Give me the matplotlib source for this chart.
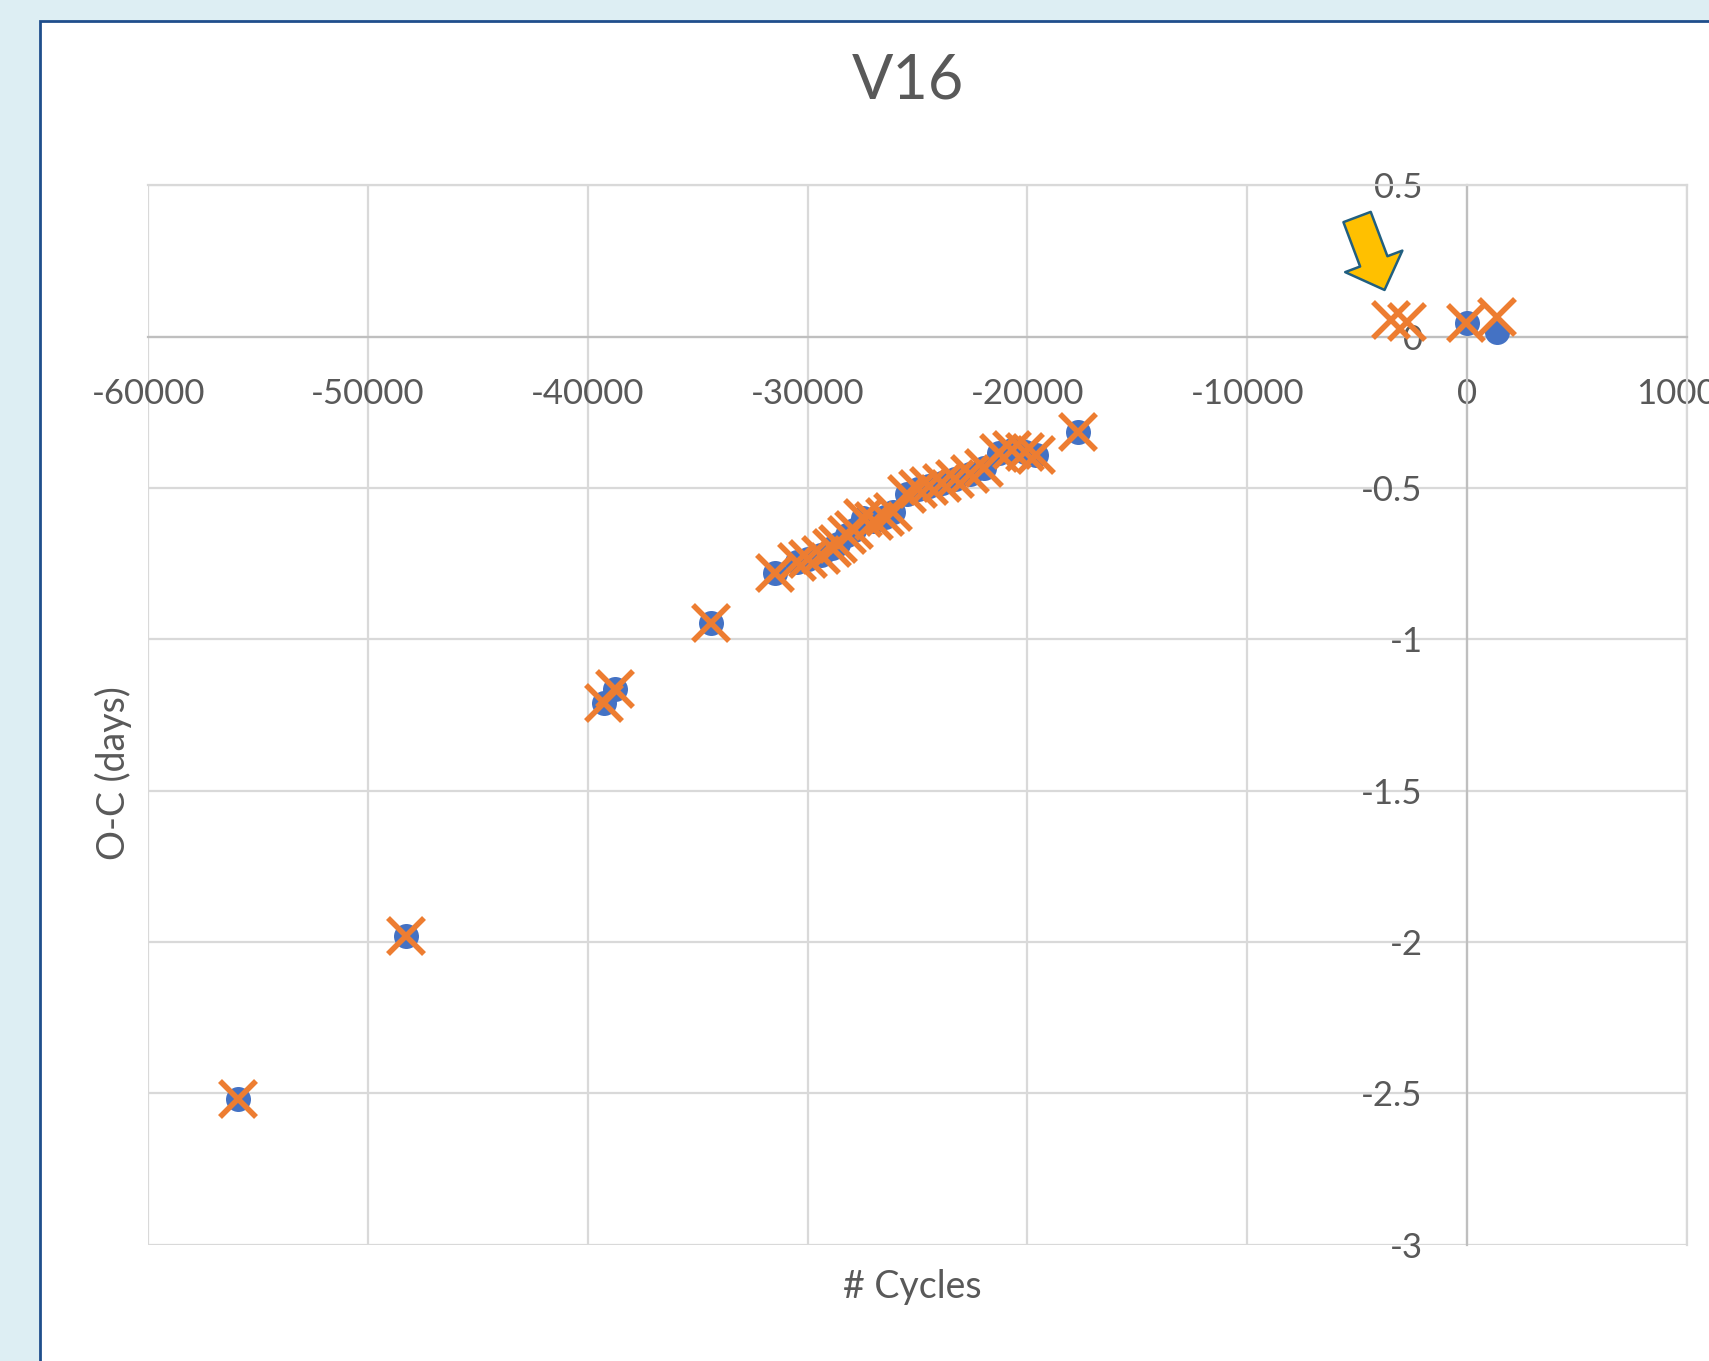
import matplotlib.pyplot as plt
from matplotlib.patches import Rectangle

plt.rcParams['font.family'] = ['Lato', 'DejaVu Sans']

# blue series (observed O-C)
cycles_blue = [-55900, -48250, -39250, -38750, -34400, -31500, -30500, -30000, -29400,
               -28900, -28600, -28200, -27900, -27500, -27000, -26500, -26100, -25500,
               -25000, -24500, -23900, -23300, -22600, -22000, -21300, -20700, -20100,
               -19600, -17700, 0, 1340]
oc_blue = [-2.52, -1.98, -1.21, -1.165, -0.945, -0.78, -0.745, -0.735, -0.72,
           -0.70, -0.685, -0.655, -0.64, -0.60, -0.61, -0.595, -0.58, -0.52,
           -0.505, -0.495, -0.485, -0.47, -0.455, -0.435, -0.385, -0.375, -0.38,
           -0.39, -0.315, 0.045, 0.015]

# orange series (crosses)
cycles_orange = [-55900, -48250, -39250, -38750, -34400, -31500, -30500, -30000, -29400,
                 -28900, -28600, -28200, -27900, -27500, -27000, -26500, -26100, -25500,
                 -25000, -24500, -23900, -23300, -22600, -22000, -21300, -20700, -20100,
                 -19600, -17700, -3450, -2750, -50, 1380]
oc_orange = [-2.52, -1.98, -1.21, -1.165, -0.945, -0.78, -0.745, -0.735, -0.72,
             -0.70, -0.685, -0.655, -0.64, -0.60, -0.61, -0.595, -0.58, -0.52,
             -0.505, -0.495, -0.485, -0.47, -0.455, -0.435, -0.385, -0.375, -0.38,
             -0.39, -0.315, 0.055, 0.048, 0.045, 0.065]

x_ticks = [-60000, -50000, -40000, -30000, -20000, -10000, 0, 10000]
y_ticks = [0.5, 0, -0.5, -1, -1.5, -2, -2.5, -3]

text_col = '#595959'
grid_col = '#D9D9D9'

fig = plt.figure(figsize=(17.09, 13.61), dpi=100)
fig.patch.set_facecolor('#DDEEF3')
fig.add_artist(Rectangle((40 / 1709, -0.1), 1.2, 1.1 - 21 / 1361, transform=fig.transFigure,
                         facecolor='white', edgecolor='#1F4E8C', lw=2, zorder=0))

ax = fig.add_axes([0.0867, 0.0855, 0.9004, 0.7784])
ax.set_facecolor('white')
ax.set_xlim(-60000, 10000)
ax.set_ylim(-3, 0.5)
ax.set_xticks(x_ticks)
ax.set_yticks(y_ticks)
ax.set_xticklabels([str(v) for v in x_ticks])
ax.set_yticklabels([f'{v:g}' for v in y_ticks])
ax.grid(True, color=grid_col, lw=1.6)
ax.set_axisbelow(True)

ax.spines['left'].set_position(('data', 0))
ax.spines['bottom'].set_position(('data', 0))
for s in ['left', 'bottom']:
    ax.spines[s].set_color('#BFBFBF')
    ax.spines[s].set_linewidth(1.6)
for s in ['top', 'right']:
    ax.spines[s].set_color(grid_col)
    ax.spines[s].set_linewidth(1.6)

ax.tick_params(axis='x', length=0, pad=30, labelsize=25, labelcolor=text_col)
ax.tick_params(axis='y', length=0, pad=32, labelsize=25, labelcolor=text_col)

ax.plot(cycles_blue, oc_blue, 'o', color='#4472C4', ms=18, mec='none', zorder=3)
ax.plot(cycles_orange, oc_orange, 'x', color='#ED7D31', ms=26, mew=4, zorder=4)

ax.annotate('', xy=(-3757, 0.154), xytext=(-5006, 0.395),
            arrowprops=dict(arrowstyle='simple,head_length=22,head_width=44,tail_width=21',
                            mutation_scale=1, fc='#FFC000', ec='#215F80', lw=1.8,
                            shrinkA=0, shrinkB=0), zorder=5)

fig.text(0.531, 0.9405, 'V16', ha='center', va='center', fontsize=44, color=text_col)
fig.text(0.534, 0.0544, '# Cycles', ha='center', va='center', fontsize=27, color=text_col)
fig.text(0.0661, 0.432, 'O-C (days)', ha='center', va='center', rotation=90,
         fontsize=27, color=text_col)

fig.savefig('out.png', dpi=100, facecolor=fig.get_facecolor())
